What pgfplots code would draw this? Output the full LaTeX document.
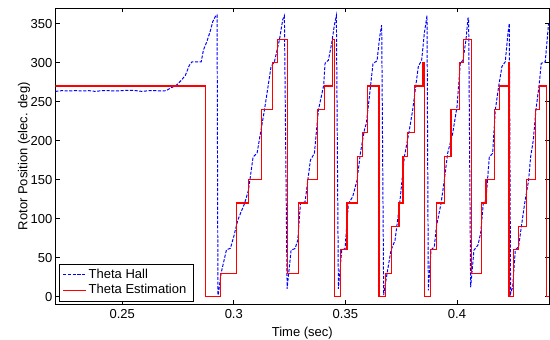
\documentclass[border=0pt]{standalone}
\usepackage{fontspec}
\setmainfont{Liberation Sans}
\usepackage{pgfplots}
\pgfplotsset{compat=1.18}
\begin{document}
\begin{tikzpicture}
\path[use as bounding box] (-42.5pt,-26.7pt) rectangle (380.5pt,234.1pt);
\begin{axis}[
  at={(0,0)}, anchor=south west,
  scale only axis, width=380pt, height=228pt,
  xmin=0.22, xmax=0.4414, ymin=-10, ymax=370,
  xtick={0.25,0.3,0.35,0.4},
  xticklabels={0.25,0.3,0.35,0.4},
  ytick={0,50,100,150,200,250,300,350},
  tick align=inside, tick pos=both, ticklabel pos=left,
  major tick length=3.5pt,
  /pgf/number format/assume math mode=true,
  tick label style={font=\fontsize{10}{12}\selectfont},
  yticklabel style={inner xsep=2pt},
  label style={font=\fontsize{10}{12}\selectfont},
  xlabel={Time (sec)},
  ylabel={Rotor Position (elec. deg)},
  ylabel shift={-5pt},
  axis line style={line width=0.6pt},
  every tick/.style={black, line width=0.5pt},
  legend style={at={(0,0)}, anchor=south west, xshift=2.6pt, yshift=2.3pt,
    draw=black, font=\fontsize{10}{12}\selectfont, row sep=-1pt},
  legend cell align=left,
]
\addplot[color=blue, line width=0.75pt, dash pattern=on 2.4pt off 1.2pt] coordinates {
(0.2200,263) (0.2230,264) (0.2260,263.5) (0.2290,264) (0.2320,263.5) (0.2350,264)
(0.2380,263) (0.2410,264) (0.2440,264) (0.2470,263.5) (0.2500,264) (0.2530,264.5)
(0.2560,264) (0.2590,263) (0.2620,264) (0.2650,264) (0.2680,263.5) (0.2697,264)
(0.2719,267.7) (0.2742,270.7) (0.2764,277) (0.2783,283.6) (0.2801,296.6) (0.2813,301)
(0.2854,301) (0.2864,316) (0.2879,326.7) (0.2894,339.7) (0.2906,352.6) (0.2921,361)
(0.2925,361) (0.2929,2)
(0.29313,4) (0.29432,30) (0.29671,60) (0.2985,62) (0.29999,77) (0.30178,98)
(0.30477,119) (0.30656,136) (0.30865,179) (0.31044,184) (0.31193,209) (0.31373,239)
(0.31671,295) (0.3182,301) (0.32044,329) (0.32193,355) (0.32268,360) (0.32388,10)
(0.32567,59.5) (0.32746,61.6) (0.32865,72) (0.32985,119) (0.33194,121.5) (0.33433,175)
(0.33612,183.6) (0.33791,239) (0.3403,271) (0.34089,299) (0.34239,303) (0.34388,325)
(0.34507,348) (0.34597,360) (0.34687,10)
(0.34836,59.5) (0.34985,61.6) (0.35134,119) (0.35328,128) (0.35522,149) (0.35672,183.6)
(0.35851,213.5) (0.3594,222) (0.3609,260) (0.36239,299) (0.36418,302) (0.36537,333)
(0.36627,348) (0.36716,2)
(0.36866,29.5) (0.37045,59.5) (0.37224,72) (0.37433,119) (0.37642,179) (0.37851,211)
(0.38015,239) (0.38149,269) (0.38269,295) (0.38418,303) (0.38538,337.6) (0.38657,360)
(0.38717,8)
(0.38836,59.5) (0.38986,64) (0.39075,89) (0.39284,119) (0.39433,149) (0.39582,183.6)
(0.39806,209) (0.4000,243) (0.4015,299) (0.40269,303) (0.40404,329) (0.40494,357)
(0.40523,357) (0.40612,12)
(0.40762,59.5) (0.40941,66) (0.4106,81) (0.4118,119) (0.4130,124) (0.41449,179)
(0.41598,183.6) (0.41718,239) (0.41866,269) (0.42016,295) (0.42165,301) (0.42285,337.6)
(0.42345,350) (0.42404,4)
(0.42494,12) (0.42613,59.5) (0.42762,64) (0.42882,89) (0.43031,119) (0.4321,149)
(0.4330,179) (0.43419,200) (0.43538,239) (0.43688,273) (0.43777,299) (0.43956,301)
(0.44105,350)
};
\addplot[color=red, line width=0.85pt, const plot] coordinates {
(0.2200,270) (0.28716,0) (0.29402,30) (0.30104,120) (0.30641,150) (0.31223,240)
(0.31731,300) (0.3194,330) (0.3240,30) (0.32896,120) (0.33283,150) (0.33731,240)
(0.3406,270) (0.3442,330) (0.3451,0) (0.34776,60) (0.35074,120) (0.35537,180)
(0.35761,210) (0.3600,270) (0.36508,0) (0.36806,30) (0.37075,90) (0.37403,120)
(0.37583,180) (0.37791,210) (0.3809,270) (0.38478,300) (0.38538,0) (0.3882,60)
(0.39075,120) (0.39434,180) (0.39732,240) (0.4012,300) (0.4030,330) (0.40643,30)
(0.41119,120) (0.4130,150) (0.41673,240) (0.41897,270) (0.4230,300) (0.4233,0)
(0.42553,60) (0.42777,90) (0.43135,150) (0.43523,240) (0.43718,270) (0.4403,0)
(0.4414,0)
};
\legend{Theta Hall, Theta Estimation}
\end{axis}
\end{tikzpicture}
\end{document}
